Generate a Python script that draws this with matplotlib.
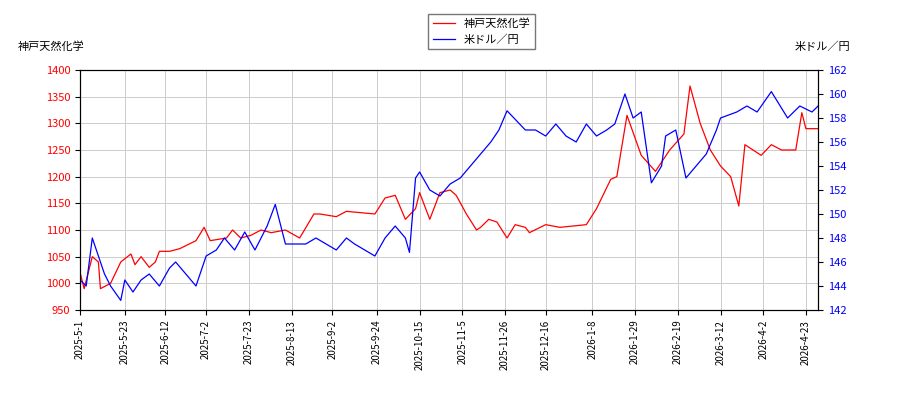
import datetime as dt

import matplotlib.pyplot as plt

plt.rcParams["font.family"] = ["Noto Sans CJK JP", "DejaVu Sans"]

start = dt.date(2025, 5, 1)

# stock price: (day offset from 2025-5-1, price)
stock_days = [0, 2, 6, 9, 10, 15, 20, 25, 27, 30, 34, 37, 39, 44, 49, 57, 61, 64, 72, 75, 79, 84, 89, 94,
              101, 108, 115, 118, 126, 131, 145, 150, 155, 160, 165, 167, 172, 177, 182, 185, 190, 195,
              197, 201, 205, 210, 214, 219, 221, 229, 236, 249, 254, 261, 264, 269, 276, 283, 290, 297,
              300, 305, 310, 315, 320, 324, 327, 335, 340, 345, 352, 355, 357, 363]
stock_vals = [1020, 990, 1050, 1040, 990, 1000, 1040, 1055, 1035, 1050, 1030, 1040, 1060, 1060, 1065,
              1080, 1105, 1080, 1085, 1100, 1085, 1090, 1100, 1095, 1100, 1085, 1130, 1130, 1125, 1135,
              1130, 1160, 1165, 1120, 1140, 1170, 1120, 1170, 1175, 1165, 1130, 1100, 1105, 1120, 1115,
              1085, 1110, 1105, 1095, 1110, 1105, 1110, 1140, 1195, 1200, 1315, 1240, 1210, 1250, 1280,
              1370, 1300, 1250, 1220, 1200, 1145, 1260, 1240, 1260, 1250, 1250, 1320, 1290, 1290]

# USD/JPY: (day offset, rate)
fx_days = [0, 3, 6, 10, 12, 15, 20, 22, 26, 30, 34, 39, 44, 47, 52, 57, 62, 67, 71, 76, 81, 86, 92,
           96, 101, 106, 111, 116, 121, 126, 131, 135, 140, 145, 150, 155, 160, 162, 165, 167, 172,
           177, 182, 187, 192, 197, 202, 206, 210, 219, 224, 229, 234, 239, 244, 249, 254, 259, 263,
           268, 272, 276, 281, 286, 288, 293, 298, 303, 308, 313, 315, 323, 328, 333, 340, 348, 354,
           360, 363]
fx_vals = [144.5, 144, 148, 146, 145, 144, 142.8, 144.5, 143.5, 144.5, 145, 144, 145.5, 146, 145,
           144, 146.5, 147, 148, 147, 148.5, 147, 149, 150.8, 147.5, 147.5, 147.5, 148, 147.5, 147,
           148, 147.5, 147, 146.5, 148, 149, 148, 146.8, 153, 153.5, 152, 151.5, 152.5, 153, 154,
           155, 156, 157, 158.6, 157, 157, 156.5, 157.5, 156.5, 156, 157.5, 156.5, 157, 157.5, 160,
           158, 158.5, 152.6, 154, 156.5, 157, 153, 154, 155, 157, 158, 158.5, 159, 158.5, 160.2,
           158, 159, 158.5, 159]

tick_dates = ["2025-5-1", "2025-5-23", "2025-6-12", "2025-7-2", "2025-7-23", "2025-8-13",
              "2025-9-2", "2025-9-24", "2025-10-15", "2025-11-5", "2025-11-26", "2025-12-16",
              "2026-1-8", "2026-1-29", "2026-2-19", "2026-3-12", "2026-4-2", "2026-4-23"]

stock_dates = [start + dt.timedelta(days=d) for d in stock_days]
fx_dates = [start + dt.timedelta(days=d) for d in fx_days]
ticks = [dt.datetime.strptime(s, "%Y-%m-%d").date() for s in tick_dates]

fig = plt.figure(figsize=(9, 4), dpi=100)
ax = fig.add_axes([0.089, 0.225, 0.82, 0.6])
ax2 = ax.twinx()

l1, = ax.plot(stock_dates, stock_vals, color="red", lw=0.9, label="神戸天然化学")
l2, = ax2.plot(fx_dates, fx_vals, color="blue", lw=0.9, label="米ドル／円")

ax.set_ylim(950, 1400)
ax2.set_ylim(142, 162)
ax2.set_yticks(range(142, 163, 2))
ax.set_xlim(start, start + dt.timedelta(days=363))

ax.set_xticks(ticks)
ax.set_xticklabels(tick_dates, rotation=90, fontsize=7)
ax.tick_params(axis="y", labelsize=8, labelcolor="red")
ax2.tick_params(axis="y", labelsize=8, labelcolor="blue")
ax.grid(True, color="#cccccc", lw=0.7)

fig.text(0.02, 0.875, "神戸天然化学", fontsize=8)
fig.text(0.945, 0.875, "米ドル／円", fontsize=8, ha="right")
fig.legend(handles=[l1, l2], loc="upper center", bbox_to_anchor=(0.535, 0.98),
           fontsize=8, fancybox=False, edgecolor="#555555")

fig.savefig("out.png")
